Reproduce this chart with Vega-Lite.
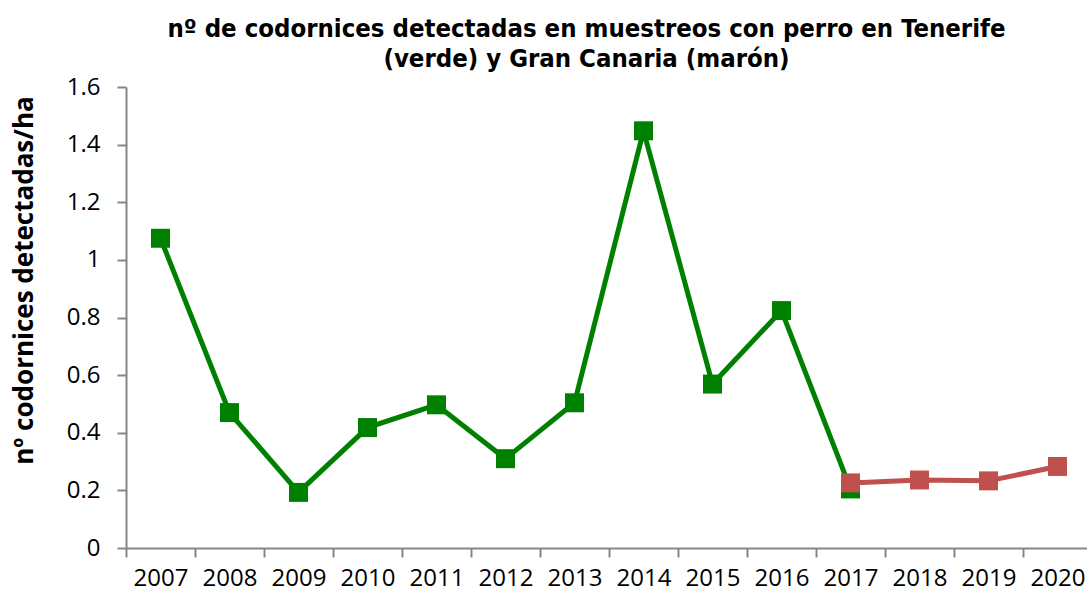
{
  "$schema": "https://vega.github.io/schema/vega-lite/v6.json",
  "autosize": "none",
  "width": 961,
  "height": 461,
  "padding": {"left": 126, "top": 87, "right": 0, "bottom": 48},
  "background": "white",
  "title": {
    "text": ["nº de codornices detectadas en muestreos con perro en Tenerife", "(verde) y Gran Canaria (marón)"],
    "font": "DejaVu Sans Condensed",
    "fontSize": 25.5,
    "fontWeight": "bold",
    "color": "#000000",
    "lineHeight": 30,
    "anchor": "middle",
    "dx": -20,
    "offset": 3
  },
  "config": {
    "view": {"stroke": null},
    "axis": {
      "grid": false,
      "domainColor": "#868686",
      "domainWidth": 2,
      "tickColor": "#868686",
      "tickWidth": 2,
      "tickSize": 9,
      "labelFont": "Open Sans",
      "labelFontSize": 24,
      "labelColor": "#000000"
    }
  },
  "data": {
    "values": [
      {"year": "2007", "value": 1.075, "isla": "Tenerife"},
      {"year": "2008", "value": 0.47, "isla": "Tenerife"},
      {"year": "2009", "value": 0.193, "isla": "Tenerife"},
      {"year": "2010", "value": 0.418, "isla": "Tenerife"},
      {"year": "2011", "value": 0.497, "isla": "Tenerife"},
      {"year": "2012", "value": 0.31, "isla": "Tenerife"},
      {"year": "2013", "value": 0.504, "isla": "Tenerife"},
      {"year": "2014", "value": 1.448, "isla": "Tenerife"},
      {"year": "2015", "value": 0.569, "isla": "Tenerife"},
      {"year": "2016", "value": 0.824, "isla": "Tenerife"},
      {"year": "2017", "value": 0.205, "isla": "Tenerife"},
      {"year": "2017", "value": 0.226, "isla": "Gran Canaria"},
      {"year": "2018", "value": 0.236, "isla": "Gran Canaria"},
      {"year": "2019", "value": 0.233, "isla": "Gran Canaria"},
      {"year": "2020", "value": 0.283, "isla": "Gran Canaria"}
    ]
  },
  "encoding": {
    "x": {
      "field": "year",
      "type": "ordinal",
      "scale": {"type": "band", "paddingInner": 0, "paddingOuter": 0, "range": [0, 966],
        "domain": ["2007","2008","2009","2010","2011","2012","2013","2014","2015","2016","2017","2018","2019","2020"]},
      "bandPosition": 0.5,
      "axis": {"title": null, "labelAngle": 0, "tickBand": "extent", "labelPadding": 9}
    },
    "y": {
      "field": "value",
      "type": "quantitative",
      "scale": {"domain": [0, 1.6], "nice": false},
      "axis": {
        "values": [0, 0.2, 0.4, 0.6, 0.8, 1, 1.2, 1.4, 1.6],
        "format": "~g",
        "labelPadding": 17,
        "title": "nº codornices detectadas/ha",
        "titleFont": "Open Sans",
        "titleFontSize": 26,
        "titleFontWeight": "bold",
        "titleColor": "#000000",
        "titleX": -102,
        "titleY": 193,
        "titleBaseline": "middle"
      }
    }
  },
  "layer": [
    {
      "transform": [{"filter": "datum.isla === 'Tenerife'"}],
      "mark": {"type": "line", "color": "#008000", "strokeWidth": 5,
        "point": {"shape": "square", "size": 360, "filled": true, "color": "#008000", "opacity": 1}}
    },
    {
      "transform": [{"filter": "datum.isla === 'Gran Canaria'"}],
      "mark": {"type": "line", "color": "#C0504D", "strokeWidth": 5,
        "point": {"shape": "square", "size": 360, "filled": true, "color": "#C0504D", "opacity": 1}}
    }
  ]
}
